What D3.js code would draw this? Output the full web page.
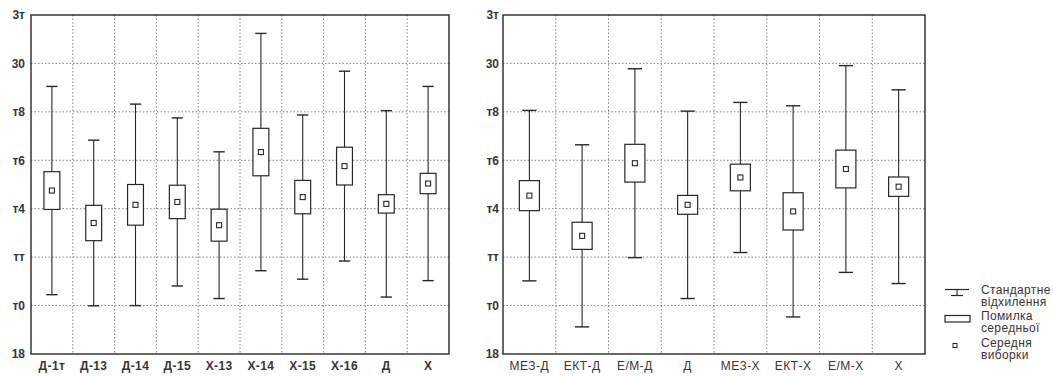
<!DOCTYPE html>
<html>
<head>
<meta charset="utf-8">
<script src="https://cdn.jsdelivr.net/npm/d3@7"></script>
<style>
  body { margin: 0; background: #fff; }
  svg { display: block; font-family: "Liberation Sans", Arial, sans-serif; }
</style>
</head>
<body>
<svg id="chart" width="1053" height="376"></svg>
<script>
'use strict';

// y axis (as printed on the scan)
var yTicks = [18, 20, 22, 24, 26, 28, 30, 32];
var yTickLabels = ["18", "т0", "тт", "т4", "т6", "т8", "30", "3т"];

// left panel
var leftCats = ["Д-1т", "Д-13", "Д-14", "Д-15", "Х-13", "Х-14", "Х-15", "Х-16", "Д", "Х"];
var leftMean = [24.75, 23.41, 24.16, 24.28, 23.32, 26.34, 24.48, 25.76, 24.2, 25.04];
var leftSe   = [0.78, 0.73, 0.84, 0.69, 0.66, 0.98, 0.69, 0.78, 0.38, 0.42];
var leftSd   = [4.30, 3.42, 4.16, 3.47, 3.03, 4.90, 3.39, 3.92, 3.85, 4.01];

// right panel
var rightCats = ["МЕЗ-Д", "ЕКТ-Д", "Е/М-Д", "Д", "МЕЗ-Х", "ЕКТ-Х", "Е/М-Х", "Х"];
var rightMean = [24.54, 22.88, 25.88, 24.16, 25.29, 23.89, 25.64, 24.91];
var rightSe   = [0.62, 0.56, 0.78, 0.39, 0.55, 0.77, 0.78, 0.40];
var rightSd   = [3.52, 3.76, 3.90, 3.87, 3.10, 4.36, 4.27, 4.00];

var legendLabels = [["Стандартне", "відхилення"], ["Помилка", "середньої"], ["Середня", "виборки"]];

var svg = d3.select("#chart");
var ink = "#2a2624";
var textInk = "#3a3533";

function drawPanel(x0, x1, labelGap, catStyle, cats, mean, se, sd) {
	var y = d3.scaleLinear().domain([18, 32]).range([354, 15]);
	var x = d3.scaleBand().domain(cats).range([x0, x1]).padding(0);
	var g = svg.append("g");

	// horizontal dotted grid
	g.selectAll(".hg").data(yTicks.slice(1, -1)).enter().append("line")
		.attr("x1", x0).attr("x2", x1)
		.attr("y1", function(d) { return y(d); }).attr("y2", function(d) { return y(d); })
		.attr("stroke", "#7a7472").attr("stroke-width", 0.9).attr("stroke-dasharray", "1.5,2");

	// vertical dotted grid at band edges
	g.selectAll(".vg").data(cats.slice(1)).enter().append("line")
		.attr("x1", function(d) { return x(d); }).attr("x2", function(d) { return x(d); })
		.attr("y1", y(32)).attr("y2", y(18))
		.attr("stroke", "#7a7472").attr("stroke-width", 0.9).attr("stroke-dasharray", "1.5,2");

	// frame
	g.append("rect").attr("x", x0).attr("y", y(32)).attr("width", x1 - x0).attr("height", y(18) - y(32))
		.attr("fill", "none").attr("stroke", ink).attr("stroke-width", 1.4);

	// y axis labels
	var yAxis = d3.axisLeft(y).tickValues(yTicks).tickSize(0).tickPadding(labelGap)
		.tickFormat(function(d, i) { return yTickLabels[i]; });
	var ya = g.append("g").attr("transform", "translate(" + x0 + ",0)").call(yAxis);
	ya.select(".domain").remove();
	ya.selectAll("text").attr("font-size", 12).attr("font-weight", "bold").attr("fill", textInk)
		.attr("font-family", "Liberation Sans, Arial, sans-serif");

	// x axis labels
	var xAxis = d3.axisBottom(x).tickSize(0).tickPadding(7);
	var xa = g.append("g").attr("transform", "translate(0," + y(18) + ")").call(xAxis);
	xa.select(".domain").remove();
	xa.selectAll("text").attr("font-size", catStyle.size).attr("font-weight", catStyle.weight)
		.attr("letter-spacing", catStyle.spacing).attr("fill", textInk)
		.attr("font-family", "Liberation Sans, Arial, sans-serif");

	var bw = x.bandwidth();
	var boxW = bw * 0.38, capW = bw * 0.27;
	var rows = cats.map(function(c, i) { return { c: c, m: mean[i], se: se[i], sd: sd[i] }; });
	var item = g.selectAll(".item").data(rows).enter().append("g")
		.attr("transform", function(d) { return "translate(" + (x(d.c) + bw / 2) + ",0)"; });

	// whisker (standard deviation)
	item.append("line").attr("x1", 0).attr("x2", 0)
		.attr("y1", function(d) { return y(d.m + d.sd); }).attr("y2", function(d) { return y(d.m - d.sd); })
		.attr("stroke", ink).attr("stroke-width", 1.1);
	item.append("line").attr("x1", -capW / 2).attr("x2", capW / 2)
		.attr("y1", function(d) { return y(d.m + d.sd); }).attr("y2", function(d) { return y(d.m + d.sd); })
		.attr("stroke", ink).attr("stroke-width", 1.4);
	item.append("line").attr("x1", -capW / 2).attr("x2", capW / 2)
		.attr("y1", function(d) { return y(d.m - d.sd); }).attr("y2", function(d) { return y(d.m - d.sd); })
		.attr("stroke", ink).attr("stroke-width", 1.4);

	// box (standard error)
	item.append("rect").attr("x", -boxW / 2).attr("width", boxW)
		.attr("y", function(d) { return y(d.m + d.se); })
		.attr("height", function(d) { return y(d.m - d.se) - y(d.m + d.se); })
		.attr("fill", "#fff").attr("stroke", ink).attr("stroke-width", 1.2);

	// mean marker
	item.append("rect").attr("x", -2.5).attr("width", 5)
		.attr("y", function(d) { return y(d.m) - 2.5; }).attr("height", 5)
		.attr("fill", "#fff").attr("stroke", ink).attr("stroke-width", 1.1);
}

drawPanel(31, 449, 6, { size: 12, weight: "bold", spacing: 0.4 }, leftCats, leftMean, leftSe, leftSd);
drawPanel(503, 925, 4, { size: 12, weight: "normal", spacing: 0.5 }, rightCats, rightMean, rightSe, rightSd);

// legend
var lg = svg.append("g");
// standard deviation icon
lg.append("line").attr("x1", 945).attr("x2", 969).attr("y1", 289.5).attr("y2", 289.5).attr("stroke", ink).attr("stroke-width", 1.2);
lg.append("line").attr("x1", 957).attr("x2", 957).attr("y1", 289.5).attr("y2", 295.5).attr("stroke", ink).attr("stroke-width", 1.1);
lg.append("line").attr("x1", 951).attr("x2", 963).attr("y1", 295.5).attr("y2", 295.5).attr("stroke", ink).attr("stroke-width", 1.2);
// error box icon
lg.append("rect").attr("x", 945).attr("y", 315.5).attr("width", 25).attr("height", 6.5)
	.attr("fill", "#fff").attr("stroke", ink).attr("stroke-width", 1.2);
// mean icon
lg.append("rect").attr("x", 953).attr("y", 343.5).attr("width", 4).attr("height", 4)
	.attr("fill", "#fff").attr("stroke", ink).attr("stroke-width", 1);

var legendY = [294, 320, 347];
legendLabels.forEach(function(lines, i) {
	var t = lg.append("text").attr("x", 981).attr("y", legendY[i])
		.attr("font-size", 12).attr("letter-spacing", 0.35).attr("fill", textInk);
	lines.forEach(function(s, j) {
		t.append("tspan").attr("x", 981).attr("dy", j === 0 ? 0 : 12).text(s);
	});
});
</script>
</body>
</html>
